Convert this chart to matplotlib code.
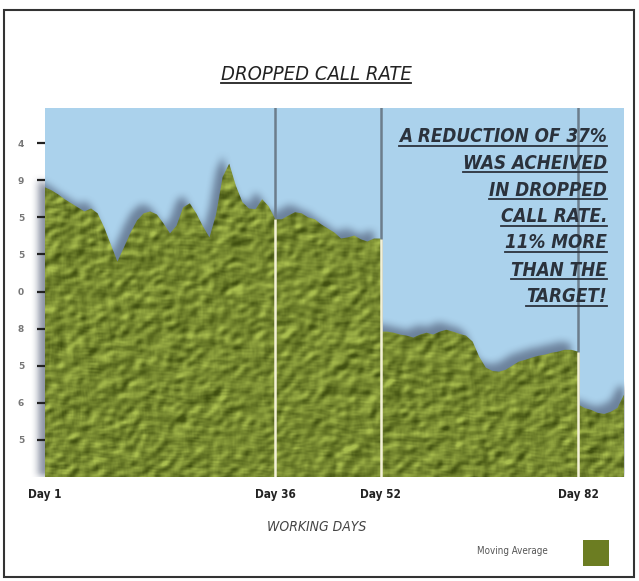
import numpy as np
import matplotlib
matplotlib.use("Agg")
import matplotlib.pyplot as plt
from matplotlib.patches import Polygon, Rectangle
from matplotlib.lines import Line2D

# ---- data -------------------------------------------------------------
days = [1, 2, 3, 4, 5, 6, 7, 8, 9, 10, 11, 12, 13, 14, 15, 16, 17, 18, 19, 20,
        21, 22, 23, 24, 25, 26, 27, 28, 29, 30, 31, 32, 33, 34, 35, 36, 37, 38,
        39, 40, 41, 42, 43, 44, 45, 46, 47, 48, 49, 50, 51, 52, 52.1, 53, 54,
        55, 56, 57, 58, 59, 60, 61, 62, 63, 64, 65, 66, 67, 68, 69, 70, 71, 72,
        73, 74, 75, 76, 77, 78, 79, 80, 81, 82, 82.1, 83, 84, 85, 86, 87, 88, 89]
rate = [7.81, 7.73, 7.62, 7.49, 7.38, 7.27, 7.16, 7.24, 7.11, 6.73, 6.27, 5.81,
        6.19, 6.59, 6.92, 7.11, 7.16, 7.08, 6.84, 6.57, 6.78, 7.27, 7.38, 7.11,
        6.76, 6.46, 7.08, 8.09, 8.45, 7.86, 7.41, 7.24, 7.22, 7.49, 7.30, 6.95,
        6.95, 7.05, 7.14, 7.11, 7.00, 6.95, 6.81, 6.70, 6.59, 6.43, 6.46, 6.51,
        6.41, 6.35, 6.43, 6.43, 3.92, 3.92, 3.89, 3.84, 3.81, 3.76, 3.84, 3.89,
        3.84, 3.92, 3.97, 3.92, 3.86, 3.81, 3.65, 3.24, 2.95, 2.86, 2.84, 2.89,
        3.00, 3.11, 3.16, 3.22, 3.27, 3.30, 3.35, 3.38, 3.43, 3.43, 3.38, 1.95,
        1.86, 1.81, 1.73, 1.70, 1.76, 1.86, 2.22]

milestone_days = [36, 52, 82]
xtick_days = [1, 36, 52, 82]
xtick_labels = ["Day 1", "Day 36", "Day 52", "Day 82"]
ytick_vals = [1, 2, 3, 4, 5, 6, 7, 8, 9]
ytick_labels = ["5", "6", "5", "8", "0", "5", "5", "9", "4"]

title = "DROPPED CALL RATE"
xlabel = "WORKING DAYS"
legend_label = "Moving Average"
note_lines = ["A REDUCTION OF 37%", "WAS ACHEIVED", "IN DROPPED",
              "CALL RATE.", "11% MORE", "THAN THE", "TARGET!"]

# ---- fonts ------------------------------------------------------------
FAM = ["DejaVu Sans"]
STRETCH = "condensed"

# ---- figure -----------------------------------------------------------
W, H = 639, 581
fig = plt.figure(figsize=(W / 100, H / 100), dpi=100)
fig.patch.set_facecolor("white")


def fx(px):
    return px / W


def fy(py):
    return 1 - py / H


ax = fig.add_axes([fx(45), fy(477), fx(624) - fx(45), fy(108) - fy(477)])
XMIN, XMAX, YMIN, YMAX = 1, 89, 0, 9.95
ax.set_xlim(XMIN, XMAX)
ax.set_ylim(YMIN, YMAX)
ax.set_facecolor("#abd2ec")
for s in ax.spines.values():
    s.set_visible(False)

days_a = np.asarray(days, float)
rate_a = np.asarray(rate, float)


def box_blur(a, r, axis):
    k = np.ones(2 * r + 1) / (2 * r + 1)
    return np.apply_along_axis(lambda v: np.convolve(v, k, mode="same"), axis, a)


# soft drop shadow offset up and to the left of the area
sx = np.linspace(-1.5, XMAX, 640)
sy = np.linspace(YMIN, YMAX, 380)
dx, dy = 1.1, 0.2
prof = np.interp(sx + dx, days_a, rate_a, left=-1, right=rate_a[-1])
mask = (sy[:, None] < (prof + dy)[None, :]).astype(float)
for _ in range(2):
    mask = box_blur(mask, 4, 1)
    mask = box_blur(mask, 4, 0)
shadow = np.zeros((len(sy), len(sx), 4))
shadow[..., 0] = 70 / 255
shadow[..., 1] = 82 / 255
shadow[..., 2] = 108 / 255
shadow[..., 3] = np.clip(mask, 0, 1) * 0.62
ax.imshow(shadow, extent=(sx[0], sx[-1], YMIN, YMAX), origin="lower",
          aspect="auto", zorder=1, clip_on=False, interpolation="bilinear")

# milestone lines above the area
for d in milestone_days:
    ax.axvline(d, color="#6c7d8c", lw=1.8, zorder=1.5)

# textured area
verts = [(days_a[0], 0)] + list(zip(days_a, rate_a)) + [(days_a[-1], 0)]
area = Polygon(verts, closed=True, facecolor="none", edgecolor="none",
               transform=ax.transData)
ax.add_patch(area)

rng = np.random.default_rng(11)
TH, TW, M = 370, 580, 24
fine = rng.random((TH + 2 * M, TW + 2 * M))
fine = box_blur(box_blur(fine, 3, 1), 2, 0)
fine = box_blur(box_blur(fine, 2, 1), 2, 0)
coarse = rng.random((TH + 2 * M, TW + 2 * M))
coarse = box_blur(box_blur(coarse, 7, 1), 5, 0)
coarse = box_blur(box_blur(coarse, 5, 1), 4, 0)
fine = fine[M - 2:M + TH, M:M + TW + 2]
coarse = coarse[M - 2:M + TH, M:M + TW + 2]
tex = fine / fine.std() + 0.8 * coarse / coarse.std()
emb = tex[2:, :-2] - tex[:-2, 2:]
emb = emb / (np.percentile(np.abs(emb), 98) + 1e-9)
emb = np.clip(emb, -1.2, 1.2)
base = np.array([118, 136, 48]) / 255
light = np.array([44, 46, 26]) / 255
img = np.clip(base[None, None, :] + emb[..., None] * light[None, None, :], 0, 1)
im = ax.imshow(img, extent=(XMIN, XMAX, YMIN, YMAX), origin="lower",
               aspect="auto", zorder=2, interpolation="bilinear")
im.set_clip_path(area)

# milestone lines inside the area
for d in milestone_days:
    top = np.interp(d - 0.05, days_a, rate_a)
    ax.plot([d, d], [0, top], color="#f3f1d6", lw=1.8, zorder=3,
            solid_capstyle="butt")

# axes ticks
ax.set_yticks(ytick_vals)
ax.set_yticklabels(ytick_labels, fontsize=6.5, color="#777777",
                   family=FAM, fontweight="bold")
ax.tick_params(axis="y", direction="out", length=6, width=1.6,
               color="#222222", pad=9)
ax.set_xticks(xtick_days)
ax.set_xticklabels([])
ax.tick_params(axis="x", length=0)

for d, lab in zip(xtick_days, xtick_labels):
    ax.text(d, -0.48, lab, ha="center", va="center", fontsize=8.5,
            fontweight="bold", family=FAM, stretch=STRETCH, color="#222222",
            transform=ax.transData, clip_on=False)

# title, axis label and note
t_title = fig.text(fx(316), fy(74), title, ha="center", va="center",
                   fontsize=14.5, style="italic", family=FAM, stretch=STRETCH,
                   color="#222222")
fig.text(fx(317), fy(527), xlabel, ha="center", va="center", fontsize=10,
         style="italic", family=FAM, stretch=STRETCH, color="#444444")

note_y = [137, 163, 190, 217, 243, 270, 297]
note_texts = []
for line, py in zip(note_lines, note_y):
    t = fig.text(fx(607), fy(py), line, ha="right", va="center", fontsize=13.5,
                 style="italic", fontweight="bold", family=FAM,
                 stretch=STRETCH, color="#2b323c", zorder=5)
    note_texts.append(t)

# legend
fig.text(fx(548), fy(551), legend_label, ha="right", va="center",
         fontsize=7, family=FAM, stretch=STRETCH, color="#555555")
fig.add_artist(Rectangle((fx(583), fy(566)), fx(609) - fx(583), fy(540) - fy(566),
                         transform=fig.transFigure, facecolor="#6c7d22",
                         edgecolor="none"))

# frame around the whole graphic
fig.add_artist(Rectangle((fx(4), fy(577)), fx(634) - fx(4), fy(10) - fy(577),
                         transform=fig.transFigure, facecolor="none",
                         edgecolor="#333333", lw=1.5))

# underline the title and the note lines
fig.canvas.draw()
renderer = fig.canvas.get_renderer()


def underline(t, lw, color, pad):
    bb = t.get_window_extent(renderer)
    y = (bb.y0 + pad) / fig.bbox.height
    fig.add_artist(Line2D([bb.x0 / fig.bbox.width, bb.x1 / fig.bbox.width], [y, y],
                          transform=fig.transFigure, color=color, lw=lw,
                          zorder=6))


underline(t_title, 1.3, "#222222", 1)
for t in note_texts:
    underline(t, 1.3, "#2b323c", 1)

fig.savefig("out.png", dpi=100)
